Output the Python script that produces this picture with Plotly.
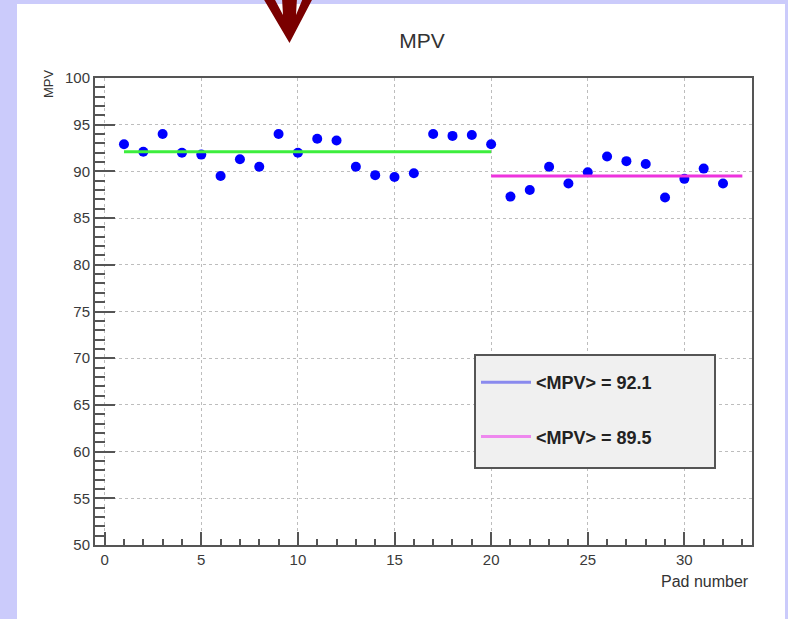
import plotly.graph_objects as go

# ---------------- data ----------------
pad_number = list(range(1, 33))
mpv = [92.9, 92.1, 94.0, 92.0, 91.8, 89.5, 91.3, 90.5, 94.0, 92.0,
       93.5, 93.3, 90.5, 89.6, 89.4, 89.8, 94.0, 93.8, 93.9, 92.9,
       87.3, 88.0, 90.5, 88.7, 89.9, 91.6, 91.1, 90.8, 87.2, 89.2,
       90.3, 88.7]
group1_x = [1, 20]
group1_mean = 92.1
group2_x = [20, 33]
group2_mean = 89.5
legend_labels = ["<MPV> = 92.1", "<MPV> = 89.5"]
x_ticks = [0, 5, 10, 15, 20, 25, 30]
y_ticks = [50, 55, 60, 65, 70, 75, 80, 85, 90, 95, 100]

# ---------------- layout geometry (pixels) ----------------
W, H = 788, 619
L, R, T, B = 95, 752, 78, 545
FONT = "Liberation Sans, Arial, sans-serif"


def px(x):
    return (x - L) / (R - L)


def py(y):
    return (B - y) / (B - T)


fig = go.Figure()

fig.add_trace(go.Scatter(
    x=pad_number, y=mpv, mode="markers",
    marker=dict(color="#0000ff", size=10, line=dict(width=0)),
    showlegend=False))

fig.add_trace(go.Scatter(
    x=group1_x, y=[group1_mean] * 2, mode="lines",
    line=dict(color="#3dee3d", width=3), showlegend=False))
fig.add_trace(go.Scatter(
    x=group2_x, y=[group2_mean] * 2, mode="lines",
    line=dict(color="#ee33dd", width=3), showlegend=False))

# legend entries (ROOT legend shows different colours than the drawn lines)
fig.add_trace(go.Scatter(
    x=[None], y=[None], mode="lines", name=legend_labels[0],
    legendgroup="a", line=dict(color="#8a8aee", width=3)))
fig.add_trace(go.Scatter(
    x=[None], y=[None], mode="lines", name=legend_labels[1],
    legendgroup="b", line=dict(color="#ee88ee", width=3)))

axis_common = dict(
    showline=True, linecolor="#555555", linewidth=2, mirror=True,
    ticks="inside", tickcolor="#555555", tickwidth=2,
    showgrid=True, gridcolor="#bdbdbd", griddash="dot", gridwidth=1,
    zeroline=False,
    tickfont=dict(family=FONT, size=15, color="#3a3a3a"),
)

fig.update_xaxes(
    **axis_common, range=[-0.5, 33.5], tickvals=x_ticks, ticklen=13,
    minor=dict(dtick=1, ticks="inside", ticklen=6, tickcolor="#555555",
               showgrid=False, tick0=0))
fig.update_yaxes(
    **axis_common, range=[50, 100], tickvals=y_ticks, ticklen=20,
    minor=dict(dtick=1, ticks="inside", ticklen=10, tickcolor="#555555",
               showgrid=False, tick0=50))

# white panel, arrow decoration and legend box
shapes = [
    dict(type="rect", xref="paper", yref="paper", layer="below",
         x0=px(17), x1=px(785), y0=py(4), y1=py(625),
         fillcolor="white", line=dict(width=0)),
    dict(type="rect", xref="paper", yref="paper", layer="above",
         x0=px(475), x1=px(715), y0=py(355), y1=py(468),
         fillcolor="#f0f0f0", line=dict(color="#555555", width=2)),
]
arrow_pts = [(263, -2), (274, -2), (283, 15), (282, -2), (297, -2),
             (296, 15), (303, -2), (313, -2), (289.5, 43)]
path = "M " + " L ".join(f"{px(a):.5f},{py(b):.5f}" for a, b in arrow_pts) + " Z"
shapes.append(dict(type="path", xref="paper", yref="paper", path=path,
                   fillcolor="#7a0000", line=dict(width=0)))

annotations = [
    dict(text="MPV", xref="paper", yref="paper", x=px(48), y=py(84),
         textangle=-90, showarrow=False, xanchor="center", yanchor="middle",
         font=dict(family=FONT, size=13, color="#333333")),
    dict(text="Pad number", xref="paper", yref="paper", x=px(751), y=py(581),
         showarrow=False, xanchor="right", yanchor="middle",
         font=dict(family=FONT, size=16, color="#333333")),
]

fig.update_layout(
    width=W, height=H,
    margin=dict(l=L, r=W - R, t=T, b=H - B),
    paper_bgcolor="#cbcbfb", plot_bgcolor="white",
    title=dict(text="MPV", x=422 / W, y=1 - 41 / H, xref="container",
               yref="container", xanchor="center", yanchor="middle",
               font=dict(family=FONT, size=21, color="#333333")),
    shapes=shapes, annotations=annotations,
    legend=dict(x=px(476), y=py(364), xanchor="left", yanchor="top",
                bgcolor="rgba(0,0,0,0)", borderwidth=0,
                tracegroupgap=28, traceorder="grouped", itemwidth=50,
                font=dict(family=FONT, size=18, color="#222222",
                          weight="bold")),
    showlegend=True,
)

fig.write_html("out.html")
